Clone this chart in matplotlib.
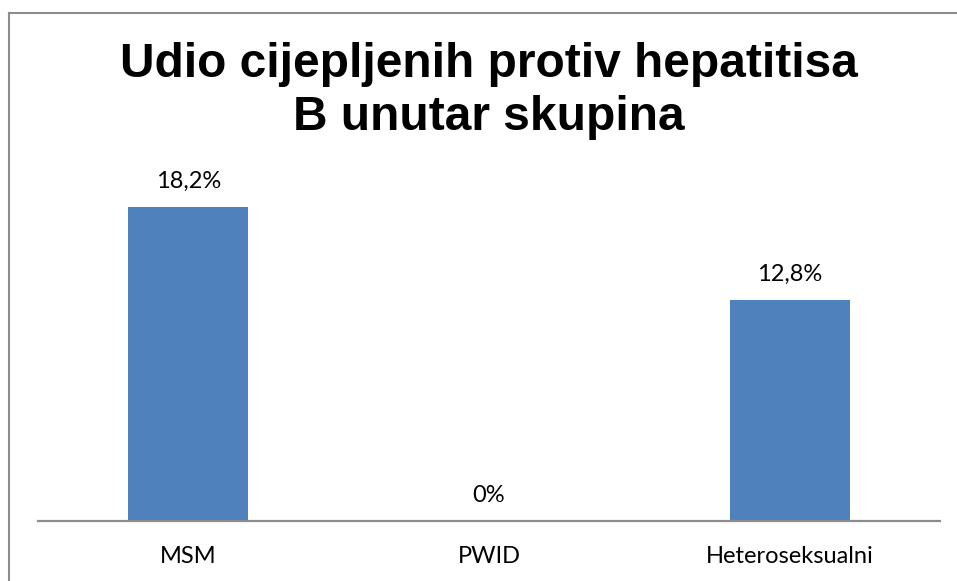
import matplotlib
matplotlib.use("Agg")
import matplotlib.pyplot as plt
from matplotlib.lines import Line2D

categories = ["MSM", "PWID", "Heteroseksualni"]
values = [18.2, 0.0, 12.8]
value_labels = ["18,2%", "0%", "12,8%"]
title = "Udio cijepljenih protiv hepatitisa\nB unutar skupina"

W, H = 957, 581
fig = plt.figure(figsize=(W / 100, H / 100), dpi=100)

# chart frame (left and top edges visible only)
fig.add_artist(Line2D([9 / W, 9 / W], [0, 1 - 13 / H], color="#8c8c8c", lw=1.5))
fig.add_artist(Line2D([9 / W, 1], [1 - 13 / H, 1 - 13 / H], color="#8c8c8c", lw=1.5))

ax = fig.add_axes([38 / W, 60 / H, (940 - 38) / W, (521 - 176) / H])
x = range(len(categories))
bars = ax.bar(x, values, width=0.4, color="#4f81bd")
ax.set_xlim(-0.5, len(categories) - 0.5)
ax.set_ylim(0, 20)

for b, lab in zip(bars, value_labels):
    ax.annotate(lab, (b.get_x() + b.get_width() / 2, b.get_height()),
                xytext=(0, 11), textcoords="offset points",
                ha="center", va="bottom", fontsize=17, family="Lato")

ax.set_xticks(list(x))
ax.set_xticklabels(categories, fontsize=17, family="Lato")
ax.tick_params(axis="x", length=0, pad=18)
ax.set_yticks([])
for s in ["left", "right", "top"]:
    ax.spines[s].set_visible(False)
ax.spines["bottom"].set_color("#8c8c8c")
ax.spines["bottom"].set_linewidth(1.6)

fig.text(489 / W, 1 - 91 / H, title, ha="center", va="center",
         fontsize=34.5, fontweight="bold", family="Liberation Sans", linespacing=1.25)

fig.savefig("out.png", dpi=100)
